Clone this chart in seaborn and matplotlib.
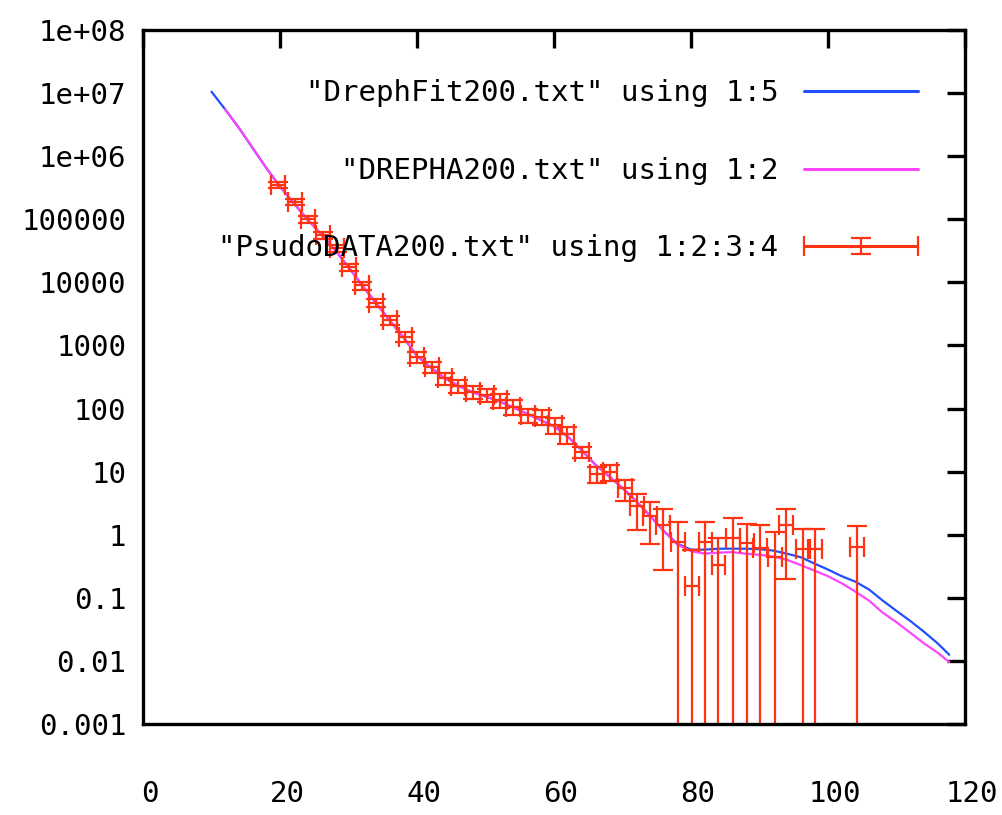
import matplotlib
matplotlib.use('Agg')
import matplotlib.pyplot as plt
import matplotlib.transforms as mtransforms
from matplotlib.legend_handler import HandlerErrorbar
from matplotlib.container import ErrorbarContainer
import numpy as np
import pandas as pd
import seaborn as sns

# DrephFit200.txt, columns 1:5
fit_x = [10, 12, 14, 16, 18, 20, 22, 24, 26, 28, 30, 32, 34, 36, 38, 40, 42, 44, 46, 48,
         50, 52, 54, 56, 58, 60, 62, 64, 66, 68, 70, 72, 74, 76, 78, 80, 82, 84, 86, 88,
         90, 92, 94, 96, 98, 100, 102, 104, 106, 108, 110, 112, 114, 116, 117.7]
fit_y = [1.05e7, 5.5e6, 2.8e6, 1.35e6, 6.5e5, 3.3e5, 1.8e5, 1.0e5, 5.8e4, 3.3e4,
         1.75e4, 9.0e3, 4.7e3, 2.5e3, 1.35e3, 6.8e2, 4.5e2, 3.05e2, 2.3e2, 1.83e2,
         1.55e2, 1.3e2, 1.05e2, 8.3e1, 6.6e1, 5.2e1, 3.6e1, 2.2e1, 1.3e1, 8.5,
         5.5, 3.4, 2.0, 1.15, 0.72, 0.58, 0.58, 0.6, 0.6, 0.6,
         0.59, 0.56, 0.5, 0.44, 0.35, 0.28, 0.22, 0.18, 0.135, 0.09,
         0.062, 0.043, 0.029, 0.019, 0.0125]

# DREPHA200.txt, columns 1:2
ha_x = [12, 14, 16, 18, 20, 22, 24, 26, 28, 30, 32, 34, 36, 38, 40, 42, 44, 46, 48,
        50, 52, 54, 56, 58, 60, 62, 64, 66, 68, 70, 72, 74, 76, 78, 80, 82, 84, 86, 88,
        90, 92, 94, 96, 98, 100, 102, 104, 106, 108, 110, 112, 114, 116, 117.7]
ha_y = [5.5e6, 2.8e6, 1.35e6, 6.5e5, 3.3e5, 1.8e5, 1.0e5, 5.8e4, 3.3e4,
        1.75e4, 9.0e3, 4.7e3, 2.5e3, 1.35e3, 6.8e2, 4.5e2, 3.05e2, 2.3e2, 1.83e2,
        1.55e2, 1.3e2, 1.05e2, 8.3e1, 6.6e1, 5.2e1, 3.6e1, 2.2e1, 1.3e1, 8.5,
        5.5, 3.4, 2.0, 1.15, 0.7, 0.55, 0.5, 0.52, 0.53, 0.5,
        0.48, 0.45, 0.4, 0.33, 0.27, 0.22, 0.17, 0.125, 0.09, 0.058,
        0.041, 0.028, 0.019, 0.0135, 0.0096]

# PsudoDATA200.txt, columns 1:2:3:4
pd_x = [19.7, 22.2, 24.1, 26.3, 28.3, 30.1, 32.0, 34.0, 36.1, 38.3, 40.0, 42.2, 44.1,
        46.0, 48.2, 50.2, 52.1, 54.0, 56.2, 58.2, 60.1, 61.9, 64.1, 66.3, 68.2, 70.4,
        72.1, 74.0, 75.9, 78.1, 80.1, 82.1, 84.0, 86.1, 88.2, 90.1, 92.3, 93.9, 96.4,
        98.1, 104.2]
pd_y = [3.5e5, 1.9e5, 1.0e5, 5.6e4, 3.5e4, 1.72e4, 9.0e3, 4.7e3, 2.5e3, 1.38e3,
        6.6e2, 4.5e2, 3.0e2, 2.28e2, 1.82e2, 1.65e2, 1.37e2, 1.07e2, 7.9e1, 7.4e1,
        5.5e1, 3.9e1, 2.05e1, 9.2, 9.8, 5.4, 2.8, 2.0, 1.43, 0.78,
        0.155, 0.78, 0.33, 0.9, 0.73, 0.62, 0.45, 1.4, 0.6,
        0.6, 0.65]
pd_xerr = [1.0] * len(pd_x)
pd_yerr = [4.0e4, 2.2e4, 1.2e4, 7.0e3, 4.5e3, 2.3e3, 1.3e3, 7.0e2, 4.0e2, 2.4e2,
           1.3e2, 9.0e1, 6.5e1, 5.2e1, 4.3e1, 4.0e1, 3.4e1, 2.8e1, 2.1e1, 2.0e1,
           1.6e1, 1.2e1, 4.0, 2.7, 2.8, 2.0, 1.6, 1.3, 1.15, 0.82,
           0.42, 0.82, 0.56, 0.96, 0.77, 0.78, 0.65, 1.2, 0.63,
           0.63, 0.7]

yticks = [1e-3, 1e-2, 1e-1, 1, 10, 100, 1000, 1e4, 1e5, 1e6, 1e7, 1e8]
ytick_labels = ['0.001', '0.01', '0.1', '1', '10', '100', '1000', '10000',
                '100000', '1e+06', '1e+07', '1e+08']
xticks = [0, 20, 40, 60, 80, 100, 120]

sns.set_style('white')
plt.rcParams['font.family'] = ['DejaVu Sans Mono']
plt.rcParams['font.size'] = 21
plt.rcParams['text.color'] = 'black'

fig = plt.figure(figsize=(10.03, 8.15), dpi=100)
ax = fig.add_axes([0.1426, 0.1117, 0.8195, 0.8515])

df_fit = pd.DataFrame({'x': fit_x, 'y': fit_y})
df_ha = pd.DataFrame({'x': ha_x, 'y': ha_y})

sns.lineplot(data=df_fit, x='x', y='y', ax=ax, color='#1f4fff', lw=1.6,
             label='"DrephFit200.txt" using 1:5')
sns.lineplot(data=df_ha, x='x', y='y', ax=ax, color='#ff44ff', lw=1.6,
             label='"DREPHA200.txt" using 1:2')
eb = ax.errorbar(pd_x, pd_y, xerr=pd_xerr, yerr=pd_yerr, fmt='none', ecolor='#ff3311',
                 elinewidth=1.6, capsize=7, capthick=1.6,
                 label='"PsudoDATA200.txt" using 1:2:3:4')

ax.set_yscale('log')
ax.set_xlim(0, 120)
ax.set_ylim(1e-3, 1e8)
ax.set_xticks(xticks)
ax.set_yticks(yticks)
ax.set_yticklabels(ytick_labels)
ax.yaxis.set_minor_locator(matplotlib.ticker.NullLocator())
ax.set_xlabel('')
ax.set_ylabel('')

for s in ax.spines.values():
    s.set_color('black')
    s.set_linewidth(2.4)
ax.tick_params(axis='both', which='major', direction='in', length=13, width=2.4,
               top=True, right=True, colors='black', labelsize=21)
ax.tick_params(axis='x', pad=40)
ax.tick_params(axis='y', pad=12)
off = mtransforms.ScaledTranslation(7 / 100, 0, fig.dpi_scale_trans)
for lab in ax.get_xticklabels():
    lab.set_transform(lab.get_transform() + off)

leg = ax.legend(loc='upper right', bbox_to_anchor=(0.943, 0.929), frameon=False,
                markerfirst=False, handlelength=3.9, handletextpad=0.9,
                labelspacing=1.7, borderpad=0, borderaxespad=0, fontsize=21,
                handler_map={ErrorbarContainer: HandlerErrorbar(xerr_size=1.95, yerr_size=0.27)})
for t in leg.get_texts():
    t.set_color('black')
for h in leg.legend_handles:
    try:
        h.set_linewidth(2.2)
    except Exception:
        pass

fig.savefig('out.png', dpi=100)
